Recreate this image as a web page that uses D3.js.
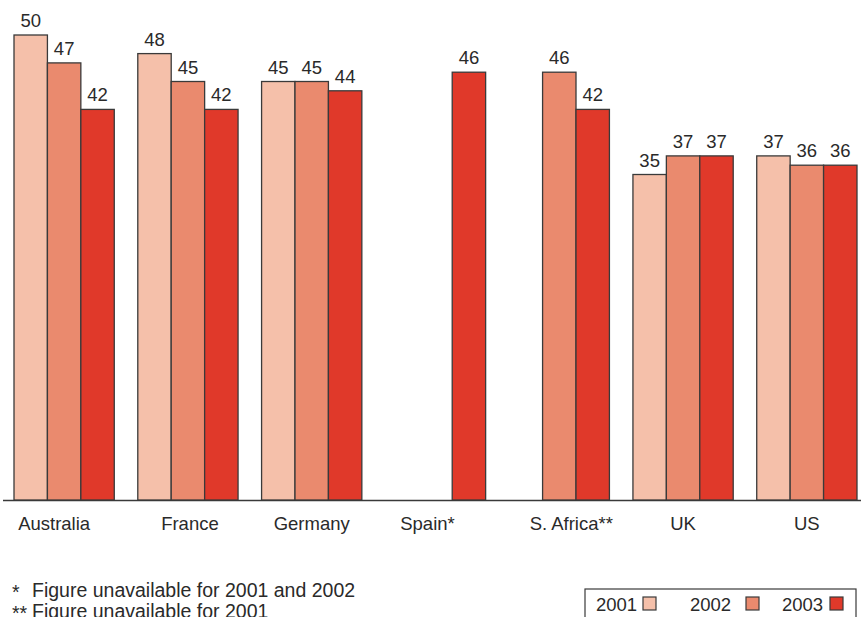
<!DOCTYPE html>
<head>
    <meta charset="utf-8">
    <script src="https://cdn.jsdelivr.net/npm/d3@7"></script>
    <style>
        body { margin: 0; background: #fff; }
        text { font-family: "Liberation Sans", Arial, sans-serif; fill: #2a2a2a; }
    </style>
</head>
<body>
    <div id="chart"></div>
    <script>
        // data (null = figure unavailable)
        const countries = ["Australia", "France", "Germany", "Spain*", "S. Africa**", "UK", "US"];
        const years = ["2001", "2002", "2003"];
        const v2001 = [50, 48, 45, null, null, 35, 37];
        const v2002 = [47, 45, 45, null, 46, 37, 36];
        const v2003 = [42, 42, 44, 46, 42, 37, 36];
        const footnotes = [["*", "Figure unavailable for 2001 and 2002"], ["**", "Figure unavailable for 2001"]];

        const colors = ["#f5c0aa", "#ea8a6e", "#e0392a"];
        const series = [v2001, v2002, v2003];

        const width = 861, height = 617;
        const baseY = 500;
        const fs = "18.5px";

        const svg = d3.select("#chart").append("svg")
            .attr("width", width)
            .attr("height", height);

        const x = d3.scaleBand()
            .domain(countries)
            .range([14, 857])
            .paddingInner(0.19)
            .paddingOuter(0);

        const xs = d3.scaleBand()
            .domain(years)
            .range([0, x.bandwidth()]);

        const y = d3.scaleLinear()
            .domain([0, 50])
            .range([baseY, 35]);

        // flatten rows
        const rows = [];
        countries.forEach((c, i) => {
            years.forEach((yr, j) => {
                rows.push({ country: c, year: yr, j: j, value: series[j][i] });
            });
        });

        // baseline
        svg.append("line")
            .attr("x1", 3).attr("x2", width)
            .attr("y1", baseY + 0.5).attr("y2", baseY + 0.5)
            .attr("stroke", "#3a3a3a")
            .attr("stroke-width", 1.3);

        const groups = svg.selectAll(".grp")
            .data(rows)
            .enter().append("g")
            .attr("transform", d => `translate(${x(d.country) + xs(d.year)},0)`);

        groups.append("rect")
            .attr("x", 0)
            .attr("y", d => y(d.value || 0))
            .attr("width", xs.bandwidth())
            .attr("height", d => baseY - y(d.value || 0))
            .attr("fill", d => colors[d.j])
            .attr("stroke", "#3a3a3a")
            .attr("stroke-width", 1.3);

        groups.filter(d => d.value != null).append("text")
            .attr("x", xs.bandwidth() / 2)
            .attr("y", d => y(d.value) - 8)
            .attr("text-anchor", "middle")
            .style("font-size", fs)
            .text(d => d.value);

        // category labels (slightly nudged like the original)
        const labelNudge = { "Australia": -10, "France": 2, "Spain*": -8, "S. Africa**": 12 };
        svg.selectAll(".cat")
            .data(countries)
            .enter().append("text")
            .attr("x", d => x(d) + x.bandwidth() / 2 + (labelNudge[d] || 0))
            .attr("y", 530)
            .attr("text-anchor", "middle")
            .style("font-size", fs)
            .text(d => d);

        // footnotes
        footnotes.forEach((f, i) => {
            svg.append("text").attr("x", 12).attr("y", 599 + i * 21)
                .style("font-size", "19.5px").text(f[0]);
            svg.append("text").attr("x", 32).attr("y", 597 + i * 21)
                .style("font-size", "19.5px").text(f[1]);
        });

        // legend
        const legend = svg.append("g").attr("transform", "translate(585, 589)");
        legend.append("rect")
            .attr("x", 0).attr("y", 0)
            .attr("width", 271).attr("height", 40)
            .attr("fill", "none")
            .attr("stroke", "#3a3a3a")
            .attr("stroke-width", 1.2);

        const textX = [11, 105, 197];
        const boxX = [58, 161, 245];
        const item = legend.selectAll(".item")
            .data(years)
            .enter().append("g");
        item.append("text")
            .attr("x", (d, i) => textX[i]).attr("y", 22)
            .style("font-size", fs)
            .text(d => d);
        item.append("rect")
            .attr("x", (d, i) => boxX[i]).attr("y", 8)
            .attr("width", 13).attr("height", 13)
            .attr("fill", (d, i) => colors[i])
            .attr("stroke", "#3a3a3a")
            .attr("stroke-width", 1.2);
    </script>
</body>
